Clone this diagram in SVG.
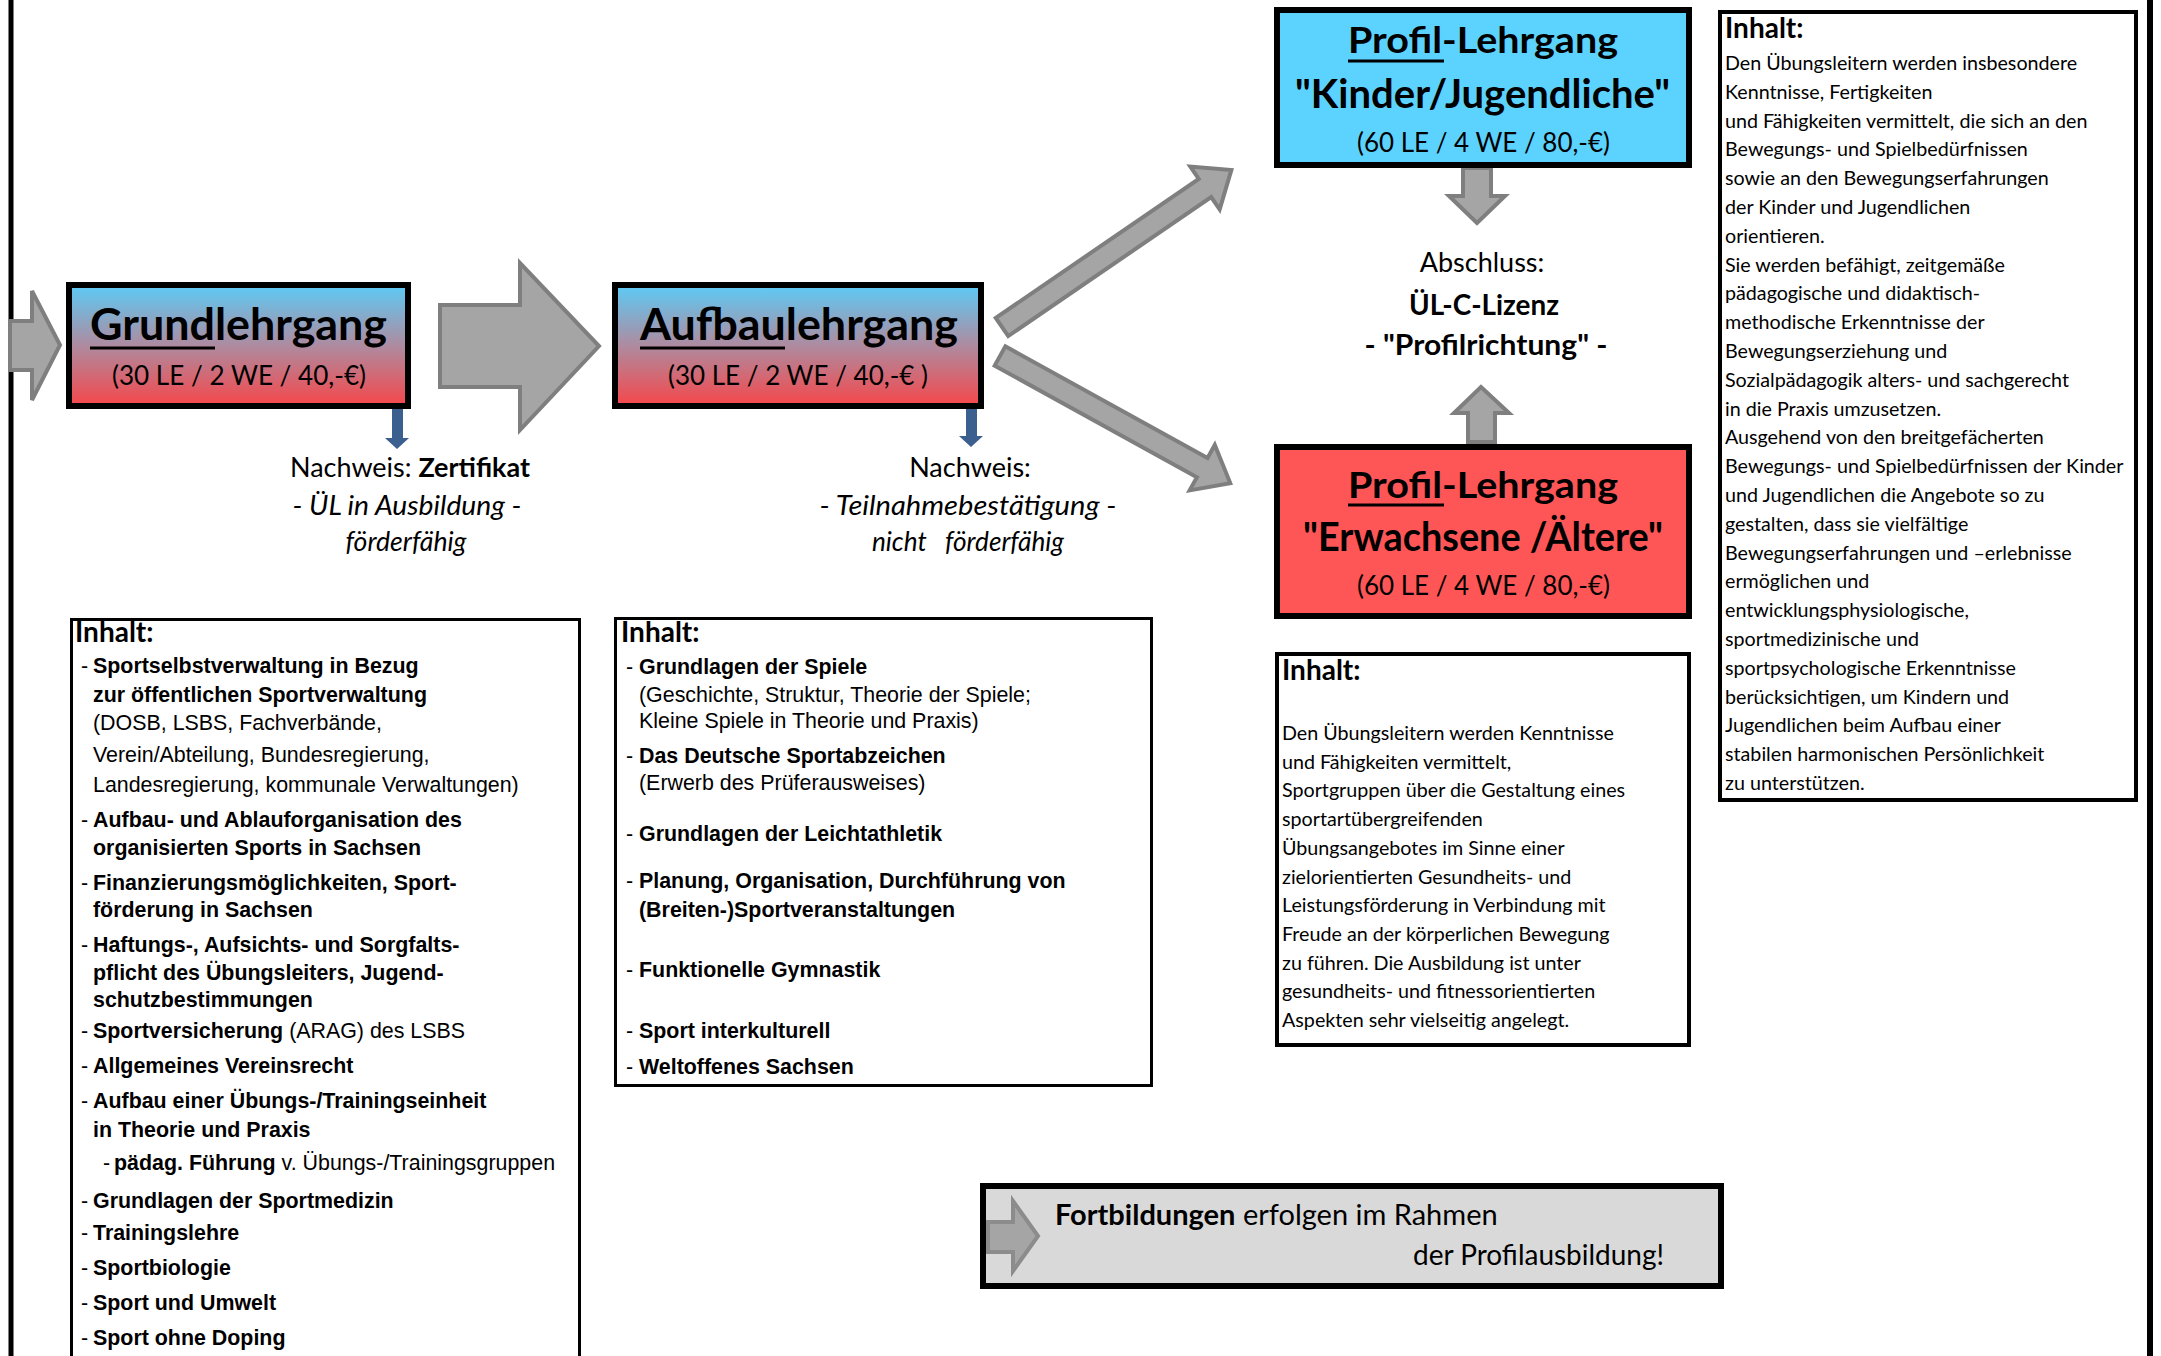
<svg xmlns="http://www.w3.org/2000/svg" width="2161" height="1356" viewBox="0 0 2161 1356">
<defs>
<linearGradient id="gradBR" x1="0" y1="0" x2="0" y2="1">
<stop offset="0" stop-color="#5CCBF6"/>
<stop offset="0.5" stop-color="#AE8BA0"/>
<stop offset="1" stop-color="#F6474A"/>
</linearGradient>
<style>
.c{font-family:Lato,"Open Sans","Liberation Sans",sans-serif;fill:#000}
.a{font-family:"Liberation Sans",Arial,sans-serif;fill:#000;font-size:21.4px}
.b{font-weight:bold}
.i{font-style:italic}
.box{stroke:#000;stroke-width:6}
.ibox{fill:#fff;stroke:#000}
.garr{fill:#A5A5A5;stroke:#7F7F7F;stroke-width:4;stroke-linejoin:miter}
.barr{fill:#3B5F8E}
.ul{stroke:#000;stroke-width:3}
.t1{font-size:44px;font-weight:bold}
.t2{font-size:26px}
.pl{font-size:36px;font-weight:bold}
.pk{font-size:40px;font-weight:bold}
.nw{font-size:27px}
.ih{font-size:28px;font-weight:bold}
.bd{font-size:19.7px}
</style>
</defs>
<rect width="2161" height="1356" fill="#fff"/>
<g id="page-border">
<line x1="11" y1="0" x2="11" y2="1356" stroke="#000" stroke-width="5"/>
<line x1="2150" y1="0" x2="2150" y2="1356" stroke="#000" stroke-width="6"/>
</g>

<g id="connectors">
<polygon class="garr" points="10,321 32,321 32,291 60,345 32,400 32,370 10,370"/>
<polygon class="garr" points="440,305 520,305 520,263 599,346 520,430 520,387 440,387"/>
<polygon class="garr" transform="translate(1002,327) rotate(-34.4)" points="0,-11 246,-11 246,-26 278,0 246,26 246,11 0,11"/>
<polygon class="garr" transform="translate(1000,356) rotate(28.9)" points="0,-11 231,-11 231,-26 263,0 231,26 231,11 0,11"/>
<polygon class="garr" points="1463,168 1491,168 1491,196 1505,196 1477,223 1449,196 1463,196"/>
<polygon class="garr" points="1468,442 1495,442 1495,413 1509,413 1481,387 1454,413 1468,413"/>
<polygon class="barr" points="392,397 403,397 403,438 409,438 397,449 385,438 392,438"/>
<polygon class="barr" points="966,395 977,395 977,436 983,436 971,447 959,436 966,436"/>
</g>

<g id="grundlehrgang">
<rect class="box" x="69" y="285" width="339" height="121" fill="url(#gradBR)"/>
<text class="c t1" x="238.5" y="340" text-anchor="middle" textLength="297" lengthAdjust="spacingAndGlyphs">Grundlehrgang</text>
<line class="ul" x1="90" y1="348" x2="215" y2="348"/>
<text class="c t2" x="239" y="385" text-anchor="middle" textLength="254" lengthAdjust="spacingAndGlyphs">(30 LE / 2 WE / 40,-€)</text>
</g>

<g id="nachweis-grund">
<text class="c nw" x="410" y="477" text-anchor="middle" textLength="240" lengthAdjust="spacingAndGlyphs">Nachweis: <tspan class="b">Zertifikat</tspan></text>
<text class="c nw i" x="407" y="515" text-anchor="middle" textLength="229" lengthAdjust="spacingAndGlyphs">- ÜL in Ausbildung -</text>
<text class="c nw i" x="406" y="551" text-anchor="middle" textLength="121" lengthAdjust="spacingAndGlyphs">förderfähig</text>
</g>

<g id="aufbaulehrgang">
<rect class="box" x="615" y="285" width="366" height="121" fill="url(#gradBR)"/>
<text class="c t1" x="799" y="340" text-anchor="middle" textLength="318" lengthAdjust="spacingAndGlyphs">Aufbaulehrgang</text>
<line class="ul" x1="640" y1="348" x2="785" y2="348"/>
<text class="c t2" x="798" y="385" text-anchor="middle" textLength="260" lengthAdjust="spacingAndGlyphs">(30 LE / 2 WE / 40,-€ )</text>
</g>

<g id="nachweis-aufbau">
<text class="c nw" x="970" y="477" text-anchor="middle">Nachweis:</text>
<text class="c nw i" x="968" y="515" text-anchor="middle" textLength="297" lengthAdjust="spacingAndGlyphs">- Teilnahmebestätigung -</text>
<text class="c nw i" x="968" y="551" text-anchor="middle" xml:space="preserve" textLength="192" lengthAdjust="spacingAndGlyphs">nicht   förderfähig</text>
</g>

<g id="profil-kinder">
<rect class="box" x="1277" y="10" width="412" height="155" fill="#5CD3FE"/>
<text class="c pl" x="1483" y="53" text-anchor="middle" textLength="270" lengthAdjust="spacingAndGlyphs">Profil-Lehrgang</text>
<line class="ul" x1="1348" y1="61" x2="1444" y2="61"/>
<text class="c pk" x="1482.5" y="108" text-anchor="middle" textLength="375" lengthAdjust="spacingAndGlyphs">"Kinder/Jugendliche"</text>
<text class="c t2" x="1483.5" y="152" text-anchor="middle" textLength="253" lengthAdjust="spacingAndGlyphs">(60 LE / 4 WE / 80,-€)</text>
</g>

<g id="abschluss">
<text class="c" x="1482" y="272" text-anchor="middle" font-size="27">Abschluss:</text>
<text class="c b" x="1484" y="315" text-anchor="middle" font-size="28" textLength="150" lengthAdjust="spacingAndGlyphs">ÜL-C-Lizenz</text>
<text class="c b" x="1486" y="355" text-anchor="middle" font-size="28" textLength="243" lengthAdjust="spacingAndGlyphs">- "Profilrichtung" -</text>
</g>

<g id="profil-erwachsene">
<rect class="box" x="1277" y="447" width="412" height="169" fill="#FE5656"/>
<text class="c pl" x="1483" y="498" text-anchor="middle" textLength="270" lengthAdjust="spacingAndGlyphs">Profil-Lehrgang</text>
<line class="ul" x1="1348" y1="505" x2="1444" y2="505"/>
<text class="c pk" x="1483" y="551" text-anchor="middle" textLength="360" lengthAdjust="spacingAndGlyphs">"Erwachsene /Ältere"</text>
<text class="c t2" x="1483.5" y="595" text-anchor="middle" textLength="253" lengthAdjust="spacingAndGlyphs">(60 LE / 4 WE / 80,-€)</text>
</g>

<g id="inhalt-kinder">
<rect class="ibox" x="1720" y="12" width="416" height="788" stroke-width="4"/>
<text class="c ih" x="1725" y="38">Inhalt:</text>
<text class="c bd" x="1725" y="70">Den Übungsleitern werden insbesondere</text>
<text class="c bd" x="1725" y="98.8">Kenntnisse, Fertigkeiten</text>
<text class="c bd" x="1725" y="127.6">und Fähigkeiten vermittelt, die sich an den</text>
<text class="c bd" x="1725" y="156.4">Bewegungs- und Spielbedürfnissen</text>
<text class="c bd" x="1725" y="185.2">sowie an den Bewegungserfahrungen</text>
<text class="c bd" x="1725" y="214">der Kinder und Jugendlichen</text>
<text class="c bd" x="1725" y="242.8">orientieren.</text>
<text class="c bd" x="1725" y="271.6">Sie werden befähigt, zeitgemäße</text>
<text class="c bd" x="1725" y="300.4">pädagogische und didaktisch-</text>
<text class="c bd" x="1725" y="329.2">methodische Erkenntnisse der</text>
<text class="c bd" x="1725" y="358">Bewegungserziehung und</text>
<text class="c bd" x="1725" y="386.8">Sozialpädagogik alters- und sachgerecht</text>
<text class="c bd" x="1725" y="415.6">in die Praxis umzusetzen.</text>
<text class="c bd" x="1725" y="444.4">Ausgehend von den breitgefächerten</text>
<text class="c bd" x="1725" y="473.2">Bewegungs- und Spielbedürfnissen der Kinder</text>
<text class="c bd" x="1725" y="502">und Jugendlichen die Angebote so zu</text>
<text class="c bd" x="1725" y="530.8">gestalten, dass sie vielfältige</text>
<text class="c bd" x="1725" y="559.6">Bewegungserfahrungen und –erlebnisse</text>
<text class="c bd" x="1725" y="588.4">ermöglichen und</text>
<text class="c bd" x="1725" y="617.2">entwicklungsphysiologische,</text>
<text class="c bd" x="1725" y="646">sportmedizinische und</text>
<text class="c bd" x="1725" y="674.8">sportpsychologische Erkenntnisse</text>
<text class="c bd" x="1725" y="703.6">berücksichtigen, um Kindern und</text>
<text class="c bd" x="1725" y="732.4">Jugendlichen beim Aufbau einer</text>
<text class="c bd" x="1725" y="761.2">stabilen harmonischen Persönlichkeit</text>
<text class="c bd" x="1725" y="790">zu unterstützen.</text>
</g>

<g id="inhalt-erwachsene">
<rect class="ibox" x="1277" y="654" width="412" height="391" stroke-width="4"/>
<text class="c ih" x="1282" y="680">Inhalt:</text>
<text class="c bd" x="1282" y="740">Den Übungsleitern werden Kenntnisse</text>
<text class="c bd" x="1282" y="768.7">und Fähigkeiten vermittelt,</text>
<text class="c bd" x="1282" y="797.4">Sportgruppen über die Gestaltung eines</text>
<text class="c bd" x="1282" y="826.1">sportartübergreifenden</text>
<text class="c bd" x="1282" y="854.8">Übungsangebotes im Sinne einer</text>
<text class="c bd" x="1282" y="883.5">zielorientierten Gesundheits- und</text>
<text class="c bd" x="1282" y="912.2">Leistungsförderung in Verbindung mit</text>
<text class="c bd" x="1282" y="940.9">Freude an der körperlichen Bewegung</text>
<text class="c bd" x="1282" y="969.6">zu führen. Die Ausbildung ist unter</text>
<text class="c bd" x="1282" y="998.3">gesundheits- und fitnessorientierten</text>
<text class="c bd" x="1282" y="1027">Aspekten sehr vielseitig angelegt.</text>
</g>

<g id="inhalt-grund">
<rect class="ibox" x="71.5" y="619.5" width="508" height="800" stroke-width="3"/>
<text class="c ih" x="75" y="642">Inhalt:</text>
<text class="a" x="81" y="673">-<tspan x="93" class="b">Sportselbstverwaltung in Bezug</tspan></text>
<text class="a b" x="93" y="702">zur öffentlichen Sportverwaltung</text>
<text class="a" x="93" y="730">(DOSB, LSBS, Fachverbände,</text>
<text class="a" x="93" y="762">Verein/Abteilung, Bundesregierung,</text>
<text class="a" x="93" y="792">Landesregierung, kommunale Verwaltungen)</text>
<text class="a" x="81" y="827">-<tspan x="93" class="b">Aufbau- und Ablauforganisation des</tspan></text>
<text class="a b" x="93" y="855">organisierten Sports in Sachsen</text>
<text class="a" x="81" y="890">-<tspan x="93" class="b">Finanzierungsmöglichkeiten, Sport-</tspan></text>
<text class="a b" x="93" y="917">förderung in Sachsen</text>
<text class="a" x="81" y="952">-<tspan x="93" class="b">Haftungs-, Aufsichts- und Sorgfalts-</tspan></text>
<text class="a b" x="93" y="980">pflicht des Übungsleiters, Jugend-</text>
<text class="a b" x="93" y="1007">schutzbestimmungen</text>
<text class="a" x="81" y="1038">-<tspan x="93" class="b">Sportversicherung</tspan> (ARAG) des LSBS</text>
<text class="a" x="81" y="1073">-<tspan x="93" class="b">Allgemeines Vereinsrecht</tspan></text>
<text class="a" x="81" y="1108">-<tspan x="93" class="b">Aufbau einer Übungs-/Trainingseinheit</tspan></text>
<text class="a b" x="93" y="1137">in Theorie und Praxis</text>
<text class="a" x="103" y="1170">-<tspan x="114" class="b">pädag. Führung</tspan> v. Übungs-/Trainingsgruppen</text>
<text class="a" x="81" y="1208">-<tspan x="93" class="b">Grundlagen der Sportmedizin</tspan></text>
<text class="a" x="81" y="1240">-<tspan x="93" class="b">Trainingslehre</tspan></text>
<text class="a" x="81" y="1275">-<tspan x="93" class="b">Sportbiologie</tspan></text>
<text class="a" x="81" y="1310">-<tspan x="93" class="b">Sport und Umwelt</tspan></text>
<text class="a" x="81" y="1345">-<tspan x="93" class="b">Sport ohne Doping</tspan></text>
</g>

<g id="inhalt-aufbau">
<rect class="ibox" x="615.5" y="618.5" width="536" height="467" stroke-width="3"/>
<text class="c ih" x="621" y="642">Inhalt:</text>
<text class="a" x="626" y="674">-<tspan x="639" class="b">Grundlagen der Spiele</tspan></text>
<text class="a" x="639" y="702">(Geschichte, Struktur, Theorie der Spiele;</text>
<text class="a" x="639" y="728">Kleine Spiele in Theorie und Praxis)</text>
<text class="a" x="626" y="763">-<tspan x="639" class="b">Das Deutsche Sportabzeichen</tspan></text>
<text class="a" x="639" y="790">(Erwerb des Prüferausweises)</text>
<text class="a" x="626" y="841">-<tspan x="639" class="b">Grundlagen der Leichtathletik</tspan></text>
<text class="a" x="626" y="888">-<tspan x="639" class="b">Planung, Organisation, Durchführung von</tspan></text>
<text class="a b" x="639" y="917">(Breiten-)Sportveranstaltungen</text>
<text class="a" x="626" y="977">-<tspan x="639" class="b">Funktionelle Gymnastik</tspan></text>
<text class="a" x="626" y="1038">-<tspan x="639" class="b">Sport interkulturell</tspan></text>
<text class="a" x="626" y="1074">-<tspan x="639" class="b">Weltoffenes Sachsen</tspan></text>
</g>

<g id="fortbildungen">
<rect class="box" x="983" y="1186" width="738" height="100" fill="#D9D9D9"/>
<polygon fill="#A5A5A5" stroke="#8C8C8C" stroke-width="4" points="988,1222 1013,1222 1013,1201 1038,1236 1013,1271 1013,1252 988,1252"/>
<text class="c" x="1055" y="1225" font-size="29"><tspan class="b">Fortbildungen</tspan> erfolgen im Rahmen</text>
<text class="c" x="1664" y="1265" font-size="29" text-anchor="end" textLength="251" lengthAdjust="spacingAndGlyphs">der Profilausbildung!</text>
</g>
</svg>
